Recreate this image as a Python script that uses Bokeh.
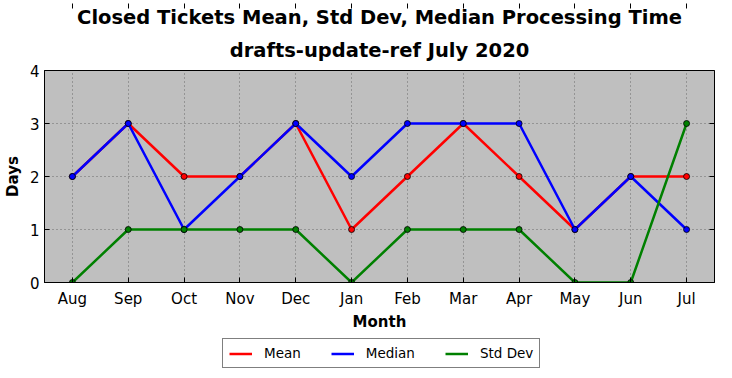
from bokeh.plotting import figure
from bokeh.layouts import column
from bokeh.models import (FactorRange, Range1d, Title, Legend, LegendItem,
                          LinearAxis, CategoricalAxis, FixedTicker, CustomJSTickFormatter)
from bokeh.embed import file_html
from bokeh.resources import INLINE

months = ["Aug", "Sep", "Oct", "Nov", "Dec", "Jan", "Feb", "Mar", "Apr", "May", "Jun", "Jul"]
mean_days = [2, 3, 2, 2, 3, 1, 2, 3, 2, 1, 2, 2]
median_days = [2, 3, 1, 2, 3, 2, 3, 3, 3, 1, 2, 1]
std_days = [0, 1, 1, 1, 1, 0, 1, 1, 1, 0, 0, 3]
y_ticks = [0, 1, 2, 3, 4]

FONT = "DejaVu Sans"

p = figure(width=716, height=335, x_range=FactorRange(*months), y_range=Range1d(0, 4),
           output_backend="svg", toolbar_location=None,
           min_border_left=38, min_border_right=2, min_border_top=70, min_border_bottom=53)
p.title = None

p.add_layout(Title(text="drafts-update-ref July 2020", align="center", text_font=FONT,
                   text_color="black", text_font_size="19.5px", text_font_style="bold",
                   standoff=17), "above")
p.add_layout(Title(text="Closed Tickets Mean, Std Dev, Median Processing Time", align="center",
                   text_font=FONT, text_color="black", text_font_size="19.5px",
                   text_font_style="bold", standoff=0), "above")

p.background_fill_color = "#bfbfbf"
p.border_fill_color = "white"
p.outline_line_color = "black"
p.outline_line_width = 1

for ax in (p.xaxis[0], p.yaxis[0]):
    ax.major_tick_in = 5
    ax.major_tick_out = 0
    ax.minor_tick_in = 0
    ax.minor_tick_out = 0
    ax.axis_line_color = "black"
    ax.major_tick_line_color = "black"
    ax.major_label_text_font = FONT
    ax.major_label_text_font_size = "15px"
    ax.major_label_text_color = "black"
    ax.axis_label_text_font = FONT
    ax.axis_label_text_font_size = "15px"
    ax.axis_label_text_font_style = "bold"
    ax.axis_label_text_color = "black"

p.yaxis[0].ticker = FixedTicker(ticks=y_ticks)
p.yaxis[0].axis_label = "Days"
p.xaxis[0].axis_label = "Month"
p.xaxis[0].major_label_standoff = 7
p.xaxis[0].axis_label_standoff = 2
p.yaxis[0].major_label_standoff = 5

top_ax = CategoricalAxis(major_tick_in=5, major_tick_out=0,
                         formatter=CustomJSTickFormatter(code="return ''"),
                         major_label_standoff=0, axis_line_color=None)
right_ax = LinearAxis(ticker=FixedTicker(ticks=y_ticks), major_tick_in=5, major_tick_out=0,
                      minor_tick_in=0, minor_tick_out=0,
                      formatter=CustomJSTickFormatter(code="return ''"),
                      major_label_standoff=0, axis_line_color=None)
p.add_layout(top_ax, "above")
p.add_layout(right_ax, "right")

p.grid.grid_line_color = "black"
p.grid.grid_line_alpha = 0.45
p.grid.grid_line_dash = "1 3"
p.grid.grid_line_width = 1

series = [("Mean", mean_days, "#ff0000"), ("Median", median_days, "#0000ff"), ("Std Dev", std_days, "#008000")]
for name, vals, col in series:
    p.line(months, vals, line_color=col, line_width=2.5)
    p.scatter(months, vals, size=6, fill_color=col, line_color="black", line_width=0.8)

# legend strip below the chart
p2 = figure(width=716, height=35, x_range=FactorRange(*months), y_range=Range1d(0, 4),
            output_backend="svg", toolbar_location=None,
            min_border_left=38, min_border_right=2, min_border_top=0, min_border_bottom=0)
p2.axis.visible = False
p2.grid.visible = False
p2.outline_line_color = None
p2.background_fill_color = "white"
items = []
for name, vals, col in series:
    r = p2.line(months, vals, line_color=col, line_width=2.5, visible=False)
    items.append(LegendItem(label=name, renderers=[r]))

legend = Legend(items=items, orientation="horizontal", location=(178, 2),
                glyph_width=23, glyph_height=13, label_height=13, label_standoff=12, spacing=30,
                padding=6, margin=0, label_text_font=FONT, label_text_font_size="13.5px",
                label_text_color="black",
                border_line_color="black", border_line_width=1, background_fill_alpha=1)
p2.add_layout(legend, "center")

open("out.html", "w").write(file_html(column(p, p2, spacing=0), INLINE))
